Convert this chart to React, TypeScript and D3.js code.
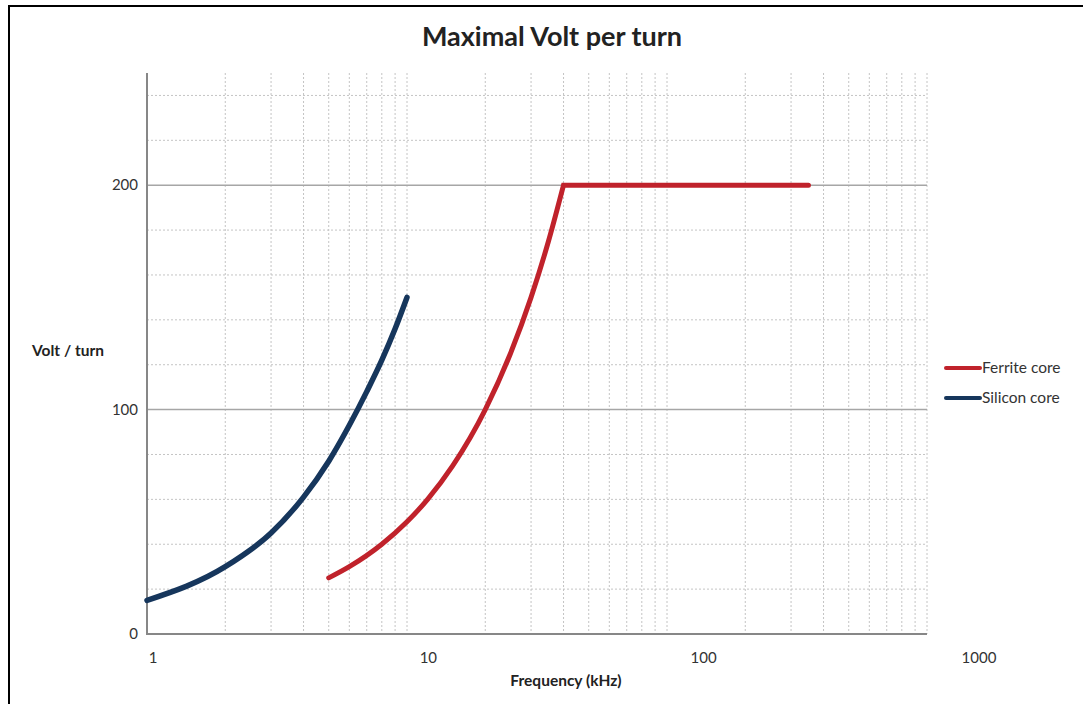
import React from 'react';
import * as d3 from 'd3';

const siliconFreq = [1, 2, 3, 4, 5, 6, 7, 8, 9, 10];
const siliconVolt = [15, 30, 45, 61, 77, 93, 108, 122, 136, 150];
const ferriteFreq = [5, 6, 8, 10, 12, 15, 20, 25, 30, 35, 40, 100, 200, 350];
const ferriteVolt = [25, 30, 40, 50, 60, 75, 100, 125, 150, 175, 200, 200, 200, 200];
const xTickLabels = [1, 10, 100, 1000];
const yTickLabels = [0, 100, 200];
const seriesNames = ['Ferrite core', 'Silicon core'];
const seriesColors = ['#c0222b', '#16365c'];

const W = 1083;
const H = 704;
const font = 'Lato, "Open Sans", sans-serif';

const App: React.FC = () => {
  const x = d3.scaleLog().domain([1, 1000]).range([147, 927]);
  // Excel places the decade labels slightly off the gridlines
  const xLabel = d3.scaleLog().domain([1, 1000]).range([153, 979]);
  const y = d3.scaleLinear().domain([0, 250]).range([634, 73]);

  const smooth = d3
    .line<[number, number]>()
    .x(d => x(d[0]))
    .y(d => y(d[1]))
    .curve(d3.curveMonotoneX);

  const silicon = siliconFreq.map((f, i) => [f, siliconVolt[i]] as [number, number]);
  const ferrite = ferriteFreq.map((f, i) => [f, ferriteVolt[i]] as [number, number]);
  // the ferrite curve saturates: rising part smooth, plateau straight, sharp knee
  const knee = ferriteVolt.indexOf(d3.max(ferriteVolt) as number);
  const ferritePath =
    (smooth(ferrite.slice(0, knee + 1)) || '') +
    ferrite.slice(knee + 1).map(d => `L${x(d[0])},${y(d[1])}`).join('');

  const vGrid: number[] = [];
  for (let k = 0; k < 3; k++) {
    for (let m = 1; m < 10; m++) {
      const v = m * Math.pow(10, k);
      if (v > 1) vGrid.push(v);
    }
  }
  vGrid.push(1000);
  const hMinor = d3.range(20, 251, 20).filter(v => v % 100 !== 0);
  const hMajor = [100, 200];

  return (
    <div style={{ position: 'absolute', left: 0, top: 0 }}>
      <svg width={W} height={H} style={{ display: 'block', fontFamily: font }}>
        <rect x={0} y={0} width={W} height={H} fill="#fff" />
        <rect x={9} y={6} width={W + 20} height={H + 20} fill="none" stroke="#000" strokeWidth={2} />

        <text x={552} y={46} textAnchor="middle" fontSize={27} fontWeight={700} fill="#222">
          Maximal Volt per turn
        </text>

        {vGrid.map(v => (
          <line key={'v' + v} x1={x(v)} x2={x(v)} y1={y(250)} y2={y(0)} stroke="#c4c4c4" strokeWidth={1} strokeDasharray="2,2" />
        ))}
        {hMinor.map(v => (
          <line key={'h' + v} x1={x(1)} x2={x(1000)} y1={y(v)} y2={y(v)} stroke="#c4c4c4" strokeWidth={1} strokeDasharray="2,2" />
        ))}
        {hMajor.map(v => (
          <line key={'H' + v} x1={x(1)} x2={x(1000)} y1={y(v)} y2={y(v)} stroke="#a6a6a6" strokeWidth={1.5} />
        ))}

        <line x1={x(1)} x2={x(1)} y1={y(250)} y2={y(0)} stroke="#878787" strokeWidth={2} />
        <line x1={x(1) - 1} x2={x(1000)} y1={y(0)} y2={y(0)} stroke="#878787" strokeWidth={2} />

        {yTickLabels.map(v => (
          <text key={'yt' + v} x={138} y={y(v)} dy="0.35em" textAnchor="end" fontSize={15} fill="#333">
            {v}
          </text>
        ))}
        {xTickLabels.map(v => (
          <text key={'xt' + v} x={xLabel(v)} y={663} textAnchor="middle" fontSize={15} fill="#333">
            {v}
          </text>
        ))}

        <text x={68} y={356} textAnchor="middle" fontSize={15.5} fontWeight={700} fill="#222">
          Volt / turn
        </text>
        <text x={566} y={686} textAnchor="middle" fontSize={15.5} fontWeight={700} fill="#222">
          Frequency (kHz)
        </text>

        <path d={ferritePath} fill="none" stroke={seriesColors[0]} strokeWidth={5} strokeLinecap="round" strokeLinejoin="miter" />
        <path d={smooth(silicon) || ''} fill="none" stroke={seriesColors[1]} strokeWidth={5.5} strokeLinecap="round" />

        {seriesNames.map((name, i) => (
          <g key={name} transform={`translate(946, ${368 + i * 30})`}>
            <line x1={0} x2={34} y1={0} y2={0} stroke={seriesColors[i]} strokeWidth={4} strokeLinecap="round" />
            <text x={36} y={0} dy="0.35em" fontSize={15.5} fill="#333">
              {name}
            </text>
          </g>
        ))}
      </svg>
    </div>
  );
};

export default App;
